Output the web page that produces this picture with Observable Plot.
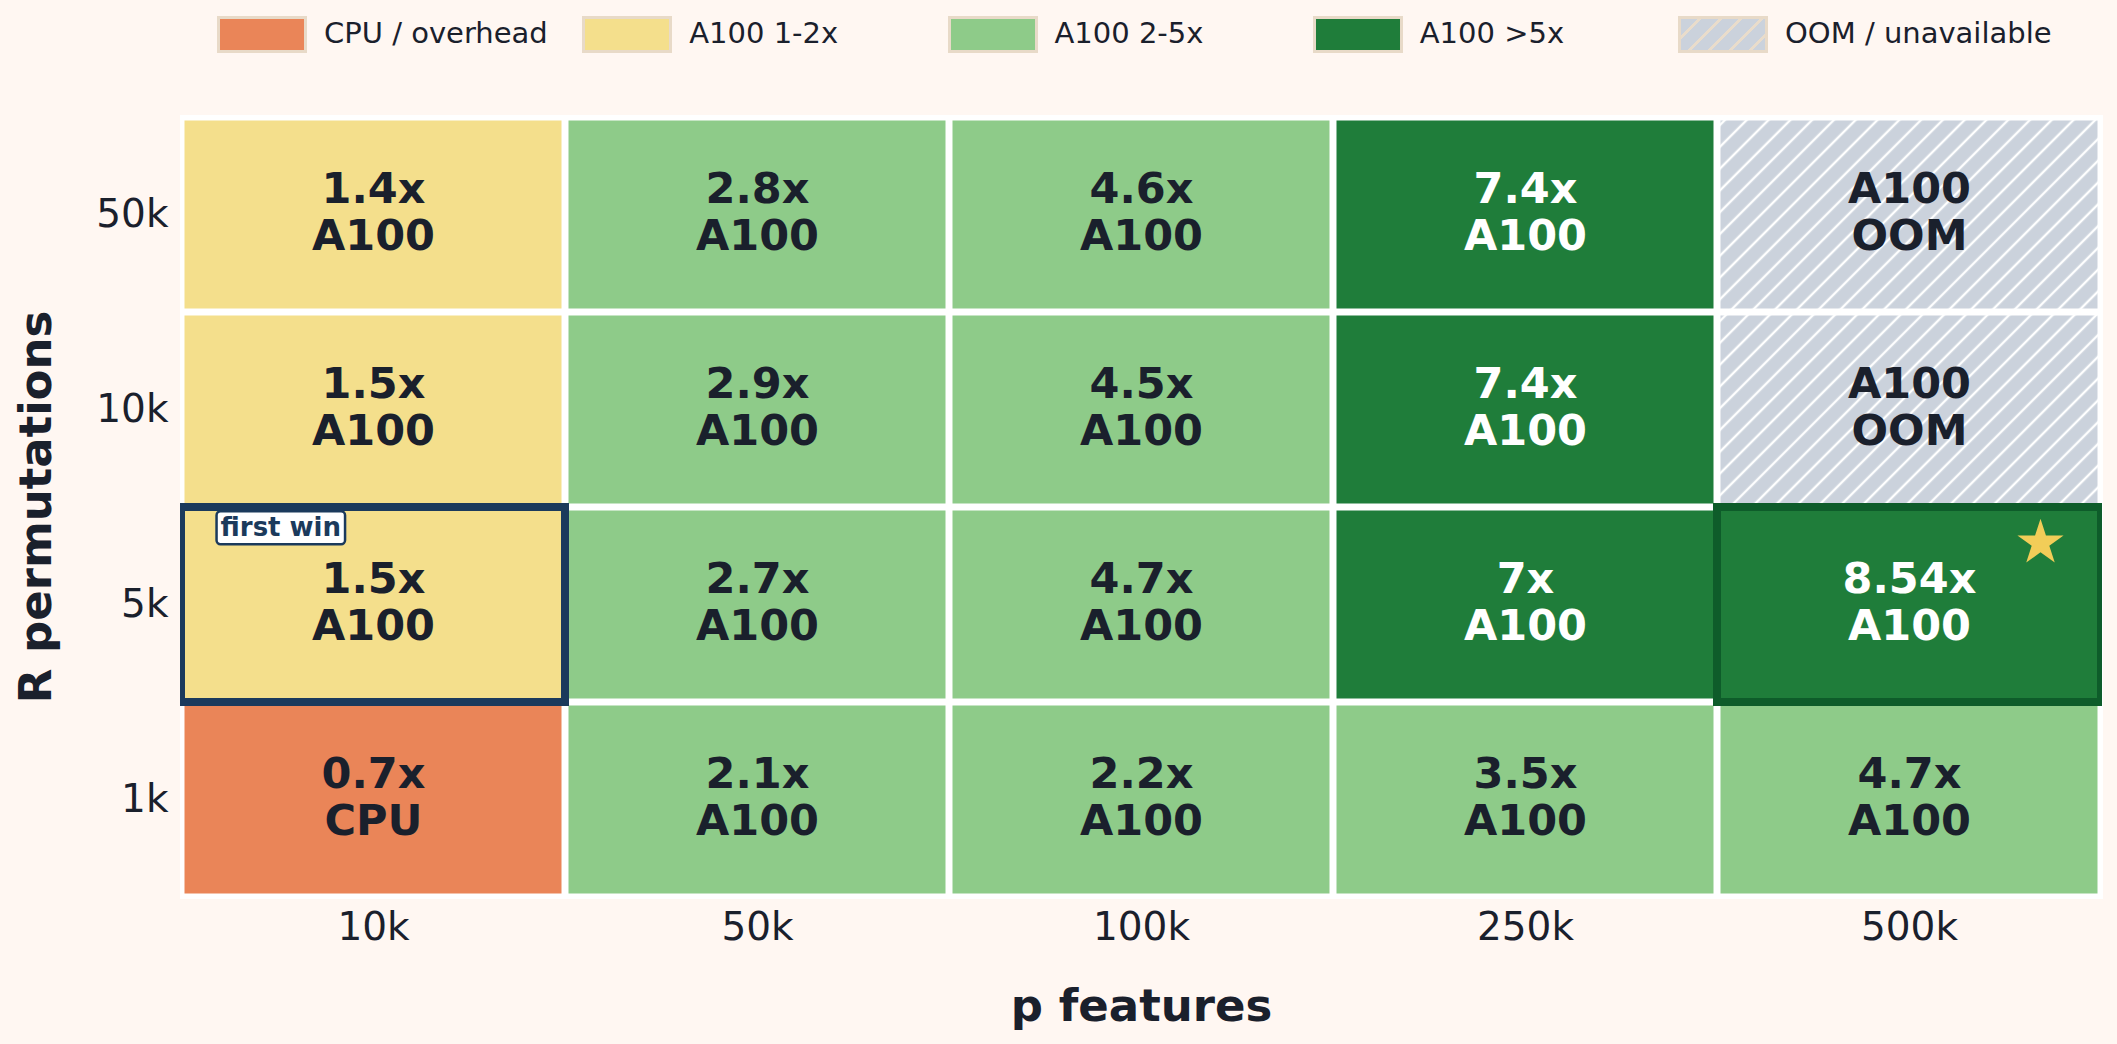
<!DOCTYPE html>
<html><head><meta charset="utf-8">
<script src="https://cdn.jsdelivr.net/npm/d3@7"></script>
<script src="https://cdn.jsdelivr.net/npm/@observablehq/plot@0.6"></script>
<style>
html,body{margin:0;padding:0;background:#fff7f2;}
body{width:2117px;height:1044px;overflow:hidden;font-family:"DejaVu Sans",sans-serif;}
#legend{position:relative;height:70px;width:2117px;}
.item{position:absolute;top:0;height:70px;}
.sw{position:absolute;left:0;top:16px;width:84px;height:31px;border:3px solid #e8dac8;}
.lab{position:absolute;left:107px;top:19px;font-size:29px;line-height:29px;color:#1a202c;white-space:nowrap;}
</style>
</head><body>
<div id="legend"></div>
<div id="chart"></div>
<script>
// ---- data ----
const pFeatures = ["10k", "50k", "100k", "250k", "500k"];
const rPermutations = ["50k", "10k", "5k", "1k"];
// speedup of A100 over CPU; null = A100 out of memory
const speedup50k = [1.4, 2.8, 4.6, 7.4, null];
const speedup10k = [1.5, 2.9, 4.5, 7.4, null];
const speedup5k  = [1.5, 2.7, 4.7, 7, 8.54];
const speedup1k  = [0.7, 2.1, 2.2, 3.5, 4.7];
const speedupRows = [speedup50k, speedup10k, speedup5k, speedup1k];

const legendLabels = ["CPU / overhead", "A100 1-2x", "A100 2-5x", "A100 >5x", "OOM / unavailable"];
const legendColors = ["#ea8558", "#f4df8c", "#8ecb89", "#1f7d3a", "url(#oomHatch)"];

const firstWin = {p: "10k", r: "5k", label: "first win", color: "#1b3a5c"};
const best = {p: "500k", r: "5k", color: "#0e5c2a"};

const darkText = "#1a202c";

// ---- build table ----
function category(v) {
  if (v == null) return 4;
  if (v < 1) return 0;
  if (v < 2) return 1;
  if (v <= 5) return 2;
  return 3;
}
const cells = [];
rPermutations.forEach((r, i) => {
  pFeatures.forEach((p, j) => {
    const v = speedupRows[i][j];
    const c = category(v);
    cells.push({
      p, r, v,
      fill: legendColors[c],
      label: v == null ? "A100\nOOM" : `${v}x\n${v < 1 ? "CPU" : "A100"}`,
      textColor: c === 3 ? "white" : darkText
    });
  });
});

// ---- legend ----
const leg = document.getElementById("legend");
legendLabels.forEach((lab, i) => {
  const it = document.createElement("div");
  it.className = "item";
  it.style.left = (217 + i * 365.25) + "px";
  const sw = document.createElement("div");
  sw.className = "sw";
  if (i === 4) {
    sw.style.background = "repeating-linear-gradient(135deg, #cbd2dc 0px, #cbd2dc 12px, #e9dccb 12px, #e9dccb 14.5px)";
  } else {
    sw.style.background = legendColors[i];
  }
  const t = document.createElement("div");
  t.className = "lab";
  t.textContent = lab;
  it.appendChild(sw); it.appendChild(t);
  leg.appendChild(it);
});

// ---- plot ----
const plot = Plot.plot({
  width: 2117,
  height: 974,
  marginTop: 45,
  marginBottom: 146,
  marginLeft: 180,
  marginRight: 15,
  style: {background: "#fff7f2", fontFamily: "DejaVu Sans", fontSize: "39px", color: darkText},
  color: {type: "identity"},
  x: {domain: pFeatures, padding: 0, tickSize: 0, tickPadding: 14, label: null, axis: "bottom"},
  y: {domain: rPermutations, padding: 0, tickSize: 0, tickPadding: 12, label: null},
  marks: [
    Plot.frame({fill: "white", stroke: "white"}),
    Plot.cell(cells, {x: "p", y: "r", fill: "fill", inset: 3.5}),
    Plot.cell([firstWin, best], {x: "p", y: "r", fill: "none", stroke: "color", strokeWidth: 8, clip: true}),
    Plot.text(cells, {x: "p", y: "r", text: "label", fill: "textColor", fontSize: 43, fontWeight: "bold", lineHeight: 1.093, dy: -4}),
    Plot.dot([best], {x: "p", y: "r", symbol: "star", r: 14.5, fill: "#f2cd58", stroke: "none", dx: 131, dy: -62}),
    Plot.text([firstWin], {x: "p", y: "r", text: "label", fill: "color", fontSize: 26, fontWeight: "bold", dx: -92.7, dy: -77}),
    Plot.text(["p features"], {frameAnchor: "bottom", text: d => d, fontSize: 45, fontWeight: "bold", fill: darkText, lineAnchor: "middle", dy: 107.6}),
    Plot.text(["R permutations"], {frameAnchor: "left", text: d => d, fontSize: 45, fontWeight: "bold", fill: darkText, rotate: -90, textAnchor: "middle", lineAnchor: "middle", dx: -144.4})
  ]
});
document.getElementById("chart").appendChild(plot);

// hatch pattern for OOM cells
const svg = d3.select(plot);
const defs = svg.insert("defs", ":first-child");
const pat = defs.append("pattern").attr("id", "oomHatch").attr("patternUnits", "userSpaceOnUse")
  .attr("width", 15.4).attr("height", 15.4).attr("patternTransform", "rotate(45)");
pat.append("rect").attr("width", 15.4).attr("height", 15.4).attr("fill", "#cbd2dc");
pat.append("line").attr("x1", 7.7).attr("y1", -1).attr("x2", 7.7).attr("y2", 16.4)
  .attr("stroke", "white").attr("stroke-width", 2.4);

// box behind "first win"
const fw = [...plot.querySelectorAll("text")].find(t => t.textContent === firstWin.label);
if (fw) {
  const b = fw.getBBox();
  const rect = document.createElementNS("http://www.w3.org/2000/svg", "rect");
  rect.setAttribute("x", b.x - 4);
  rect.setAttribute("y", b.y - 1);
  rect.setAttribute("width", b.width + 8);
  rect.setAttribute("height", b.height + 3);
  rect.setAttribute("rx", 4);
  rect.setAttribute("fill", "white");
  rect.setAttribute("stroke", firstWin.color);
  rect.setAttribute("stroke-width", 2.5);
  if (fw.getAttribute("transform")) rect.setAttribute("transform", fw.getAttribute("transform"));
  fw.parentNode.insertBefore(rect, fw);
}
</script>
</body></html>
